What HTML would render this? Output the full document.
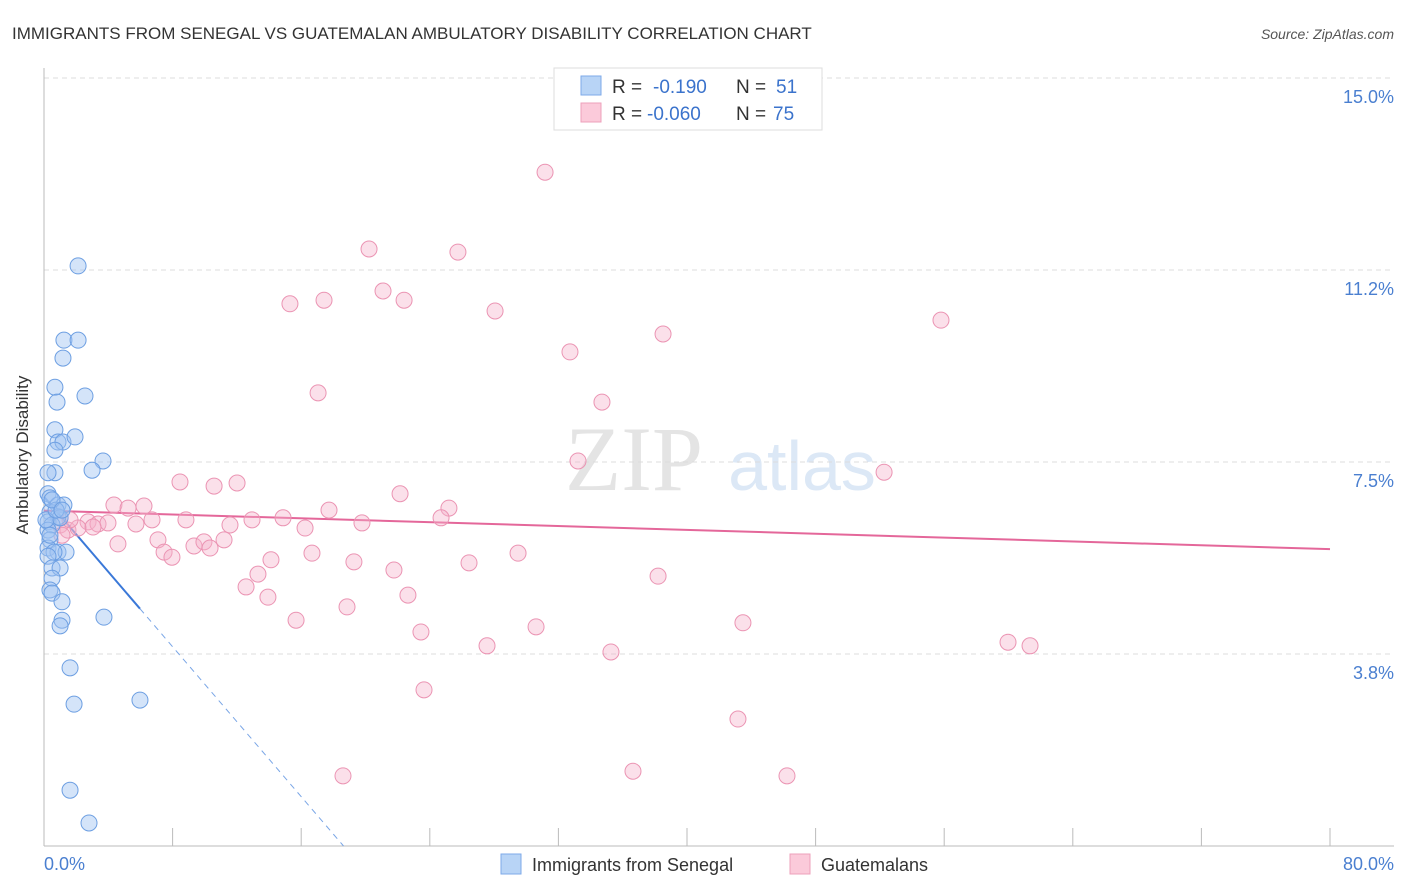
<!DOCTYPE html>
<html><head><meta charset="utf-8"><style>
body{margin:0;background:#fff;font-family:"Liberation Sans",sans-serif;}
svg{display:block}
</style></head><body>
<svg id="chart" width="1406" height="892">
<text x="12" y="39" font-size="17" fill="#333">IMMIGRANTS FROM SENEGAL VS GUATEMALAN AMBULATORY DISABILITY CORRELATION CHART</text>
<text x="1394" y="39" font-size="14" fill="#555" font-style="italic" text-anchor="end">Source: ZipAtlas.com</text>
<text x="634" y="490" font-size="92" fill="#e4e4e4" font-family="Liberation Serif" text-anchor="middle">ZIP</text>
<text x="802" y="490" font-size="70" fill="#dce8f6" text-anchor="middle">atlas</text>
<g id="grid"></g><g id="axes"></g><g id="trends"></g><g id="points"></g>
<text x="28" y="455" font-size="17" fill="#333" transform="rotate(-90 28 455)" text-anchor="middle">Ambulatory Disability</text>
<text x="44" y="870" font-size="18" fill="#4a7fd0">0.0%</text>
<text x="1394" y="870" font-size="18" fill="#4a7fd0" text-anchor="end">80.0%</text>
<g>
<rect x="554" y="68" width="268" height="62" fill="#fff" stroke="#ddd"/>
<rect x="581" y="76" width="20" height="19" fill="#b8d4f6" stroke="#7eaae8"/>
<rect x="581" y="103" width="20" height="19" fill="#fbcada" stroke="#eea0bb"/>
<text x="612" y="93" font-size="19" fill="#333">R = </text><text x="653" y="93" font-size="19" fill="#3b73cc">-0.190</text>
<text x="736" y="93" font-size="19" fill="#333">N = </text><text x="776" y="93" font-size="19" fill="#3b73cc">51</text>
<text x="612" y="120" font-size="19" fill="#333">R = </text><text x="647" y="120" font-size="19" fill="#3b73cc">-0.060</text>
<text x="736" y="120" font-size="19" fill="#333">N = </text><text x="773" y="120" font-size="19" fill="#3b73cc">75</text>
</g>
<g>
<rect x="501" y="854" width="20" height="20" fill="#b8d4f6" stroke="#7eaae8"/>
<text x="532" y="871" font-size="18" fill="#333">Immigrants from Senegal</text>
<rect x="790" y="854" width="20" height="20" fill="#fbcada" stroke="#eea0bb"/>
<text x="821" y="871" font-size="18" fill="#333">Guatemalans</text>
</g>
</svg>
<script>
const yTicks=[3.75,7.5,11.25,15];
const yTickLabels=["3.8%","7.5%","11.2%","15.0%"];
const xTicks=[0,8,16,24,32,40,48,56,64,72,80];
const senegalX=[2.12,1.24,2.12,1.18,0.68,0.81,2.55,0.68,0.87,1.18,0.68,1.93,3.67,2.99,0.68,0.25,0.25,0.37,0.87,1.24,0.37,0.87,0.25,0.50,1.00,0.25,0.37,0.25,0.87,1.37,0.62,0.25,0.50,1.00,0.50,0.37,0.50,1.12,1.12,1.00,3.73,1.62,1.87,5.97,1.62,2.80,0.12,0.75,0.50,1.12,0.37];
const senegalY=[11.33,9.88,9.88,9.53,8.96,8.67,8.79,8.13,7.89,7.89,7.73,7.99,7.52,7.34,7.29,7.29,6.88,6.80,6.66,6.66,6.52,6.43,6.33,6.27,6.41,6.17,5.98,5.82,5.74,5.74,5.74,5.66,5.43,5.43,5.23,5.00,4.94,4.77,4.41,4.30,4.47,3.48,2.77,2.85,1.09,0.45,6.37,6.56,6.76,6.56,6.07];
const guatX=[31.17,20.22,25.75,15.30,17.42,21.09,22.40,28.06,55.80,38.51,32.72,17.05,34.71,33.22,52.26,8.46,10.58,12.01,22.15,25.19,17.73,24.70,4.35,5.23,6.22,6.72,8.83,11.57,12.94,14.87,16.24,19.78,2.74,3.36,3.98,1.00,1.49,2.12,3.05,5.72,4.60,7.09,7.47,7.96,9.33,9.95,10.33,11.20,16.67,14.12,19.28,21.77,26.44,29.49,13.31,12.57,13.93,22.64,18.85,15.68,38.20,30.61,43.48,23.45,27.56,35.27,59.97,61.34,23.64,43.17,18.60,36.64,46.22,1.62,1.12];
const guatY=[13.16,11.66,11.60,10.59,10.66,10.84,10.66,10.45,10.27,10.0,9.65,8.85,8.67,7.52,7.30,7.11,7.03,7.09,6.88,6.60,6.56,6.41,6.66,6.60,6.64,6.37,6.37,6.27,6.37,6.41,6.21,6.31,6.33,6.29,6.31,6.27,6.17,6.21,6.23,6.29,5.90,5.98,5.74,5.64,5.86,5.94,5.82,5.98,5.72,5.59,5.55,5.39,5.53,5.72,5.31,5.06,4.86,4.90,4.67,4.41,5.27,4.28,4.36,4.18,3.91,3.79,3.98,3.91,3.05,2.48,1.37,1.46,1.37,6.37,6.07];
const senegalTrend=[6.82,-0.366];
const guatTrend=[6.55,-0.0094];
const NS="http://www.w3.org/2000/svg";
const X=v=>44+v*16.075, Y=v=>846-v*51.2;
function mk(t,a,p){const e=document.createElementNS(NS,t);for(const k in a)e.setAttribute(k,a[k]);document.getElementById(p).appendChild(e);return e;}
yTicks.forEach((t,i)=>{
 const g=mk('line',{x1:44,x2:1394,y1:Y(t),y2:Y(t),stroke:'#ddd','stroke-dasharray':'5,4'},'grid');
 
 
 const l=mk('text',{x:1394,y:Y(t)+25,'font-size':18,fill:'#4a7fd0','text-anchor':'end'},'grid');
 l.textContent=yTickLabels[i];
 
 
});
const ax=mk('line',{x1:44,x2:44,y1:68,y2:846,stroke:'#bbb'},'axes');


const bx=mk('line',{x1:44,x2:1394,y1:846,y2:846,stroke:'#bbb'},'axes');


xTicks.forEach(t=>{const k=mk('line',{x1:X(t),x2:X(t),y1:828,y2:846,stroke:'#bbb'},'axes');
 
 });
const f=(tr,x)=>tr[0]+tr[1]*x;
const t1=mk('line',{x1:X(0),y1:Y(f(senegalTrend,0)),x2:X(5.97),y2:Y(f(senegalTrend,5.97)),stroke:'#3a78d8','stroke-width':2},'trends');


const x0=-senegalTrend[0]/senegalTrend[1];
const t2=mk('line',{x1:X(5.97),y1:Y(f(senegalTrend,5.97)),x2:X(x0),y2:Y(0),stroke:'#7aa6e6','stroke-width':1,'stroke-dasharray':'6,5'},'trends');


const t3=mk('line',{x1:X(0),y1:Y(f(guatTrend,0)),x2:X(80),y2:Y(f(guatTrend,80)),stroke:'#e4679a','stroke-width':2},'trends');


guatX.forEach((x,i)=>{const c=mk('circle',{cx:X(x),cy:Y(guatY[i]),r:8,fill:'rgba(246,178,202,0.4)',stroke:'#eb94b3','stroke-width':1},'points');
 
 });
senegalX.forEach((x,i)=>{const c=mk('circle',{cx:X(x),cy:Y(senegalY[i]),r:8,fill:'rgba(160,196,242,0.45)',stroke:'#6d9fe2','stroke-width':1},'points');
 
 });
</script>
</body></html>
